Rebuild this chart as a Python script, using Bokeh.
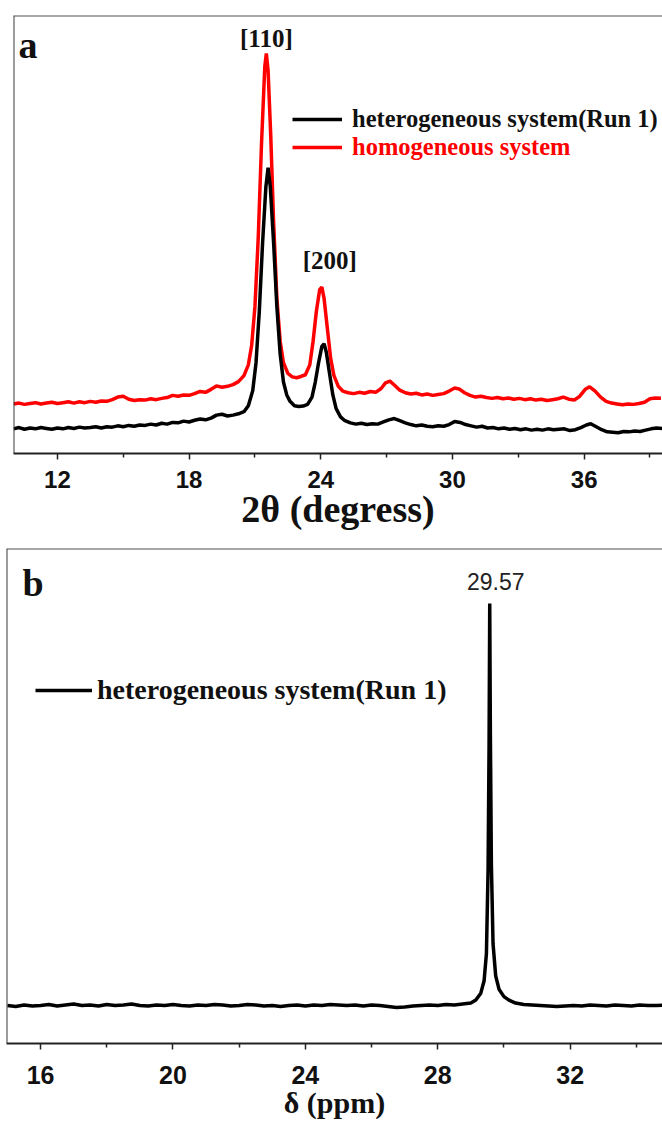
from bokeh.plotting import figure
from bokeh.models import FixedTicker, Range1d, Legend, LegendItem, Label, Span
from bokeh.embed import file_html
from bokeh.resources import INLINE

# ---------------- data: panel a (XRD) ----------------
xrd_hetero_x = [10.00, 10.25, 10.50, 10.75, 11.00, 11.25, 11.50, 11.75, 12.00, 12.25, 12.50, 12.75,
                13.00, 13.25, 13.50, 13.75, 14.00, 14.25, 14.50, 14.75, 15.00, 15.25, 15.50, 15.75,
                16.00, 16.25, 16.50, 16.75, 17.00, 17.25, 17.50, 17.75, 18.00, 18.25, 18.50, 18.75,
                19.00, 19.25, 19.50, 19.75, 20.00, 20.25, 20.50, 20.70, 20.90, 21.05, 21.20, 21.35,
                21.50, 21.60, 21.70, 21.85, 22.00, 22.15, 22.30, 22.45, 22.60, 22.80, 23.00, 23.20,
                23.40, 23.60, 23.75, 23.90, 24.05, 24.15, 24.25, 24.40, 24.55, 24.70, 24.90, 25.10,
                25.35, 25.60, 25.85, 26.10, 26.35, 26.60, 26.85, 27.10, 27.35, 27.60, 27.85, 28.10,
                28.35, 28.60, 28.85, 29.10, 29.35, 29.60, 29.85, 30.10, 30.35, 30.60, 30.85, 31.10,
                31.35, 31.60, 31.85, 32.10, 32.35, 32.60, 32.85, 33.10, 33.35, 33.60, 33.85, 34.10,
                34.35, 34.60, 34.85, 35.10, 35.35, 35.60, 35.85, 36.10, 36.30, 36.55, 36.80, 37.05,
                37.30, 37.55, 37.80, 38.05, 38.30, 38.55, 38.80, 39.05, 39.30, 39.55]
xrd_hetero_y = [3.6, 3.9, 3.5, 3.8, 3.6, 3.9, 3.7, 3.5, 3.8, 3.6, 3.9, 3.7,
                4.0, 3.8, 3.9, 4.1, 3.8, 4.1, 4.0, 4.3, 4.1, 4.4, 4.2, 4.5,
                4.4, 4.7, 4.5, 4.9, 4.7, 5.1, 5.0, 5.4, 5.2, 5.6, 5.9, 5.7,
                6.1, 6.8, 7.0, 6.6, 6.8, 7.1, 7.6, 9.0, 12.5, 19.0, 31.0, 47.0,
                60.0, 64.4, 60.0, 47.0, 32.0, 21.0, 14.5, 11.5, 10.0, 9.0, 8.8, 8.9,
                9.3, 11.0, 14.5, 19.0, 22.8, 23.4, 21.5, 16.5, 11.5, 8.3, 6.4, 5.5,
                5.0, 4.7, 4.9, 4.6, 4.8, 4.7, 5.2, 5.7, 6.0, 5.5, 5.0, 4.6,
                4.3, 4.5, 4.2, 4.1, 4.3, 4.2, 4.6, 5.3, 5.1, 4.6, 4.3, 4.0,
                4.2, 3.8, 3.9, 3.6, 3.8, 3.5, 3.7, 3.4, 3.6, 3.3, 3.5, 3.3,
                3.6, 3.4, 3.5, 3.6, 3.2, 3.4, 3.9, 4.5, 4.8, 4.1, 3.4, 2.9,
                2.8, 2.7, 3.0, 2.9, 3.1, 3.0, 3.3, 3.6, 3.8, 3.7]

xrd_homo_x = [10.00, 10.25, 10.50, 10.75, 11.00, 11.25, 11.50, 11.75, 12.00, 12.25, 12.50, 12.75,
              13.00, 13.25, 13.50, 13.75, 14.00, 14.25, 14.50, 14.75, 15.00, 15.25, 15.50, 15.75,
              16.00, 16.25, 16.50, 16.75, 17.00, 17.25, 17.50, 17.75, 18.00, 18.25, 18.50, 18.75,
              19.00, 19.25, 19.50, 19.75, 20.00, 20.25, 20.50, 20.70, 20.85, 21.00, 21.15, 21.30,
              21.45, 21.52, 21.60, 21.72, 21.85, 22.00, 22.15, 22.30, 22.50, 22.70, 22.90, 23.10,
              23.30, 23.50, 23.65, 23.80, 23.95, 24.05, 24.15, 24.30, 24.45, 24.60, 24.80, 25.00,
              25.25, 25.50, 25.75, 26.00, 26.25, 26.50, 26.75, 26.95, 27.15, 27.35, 27.60, 27.85,
              28.10, 28.35, 28.60, 28.85, 29.10, 29.35, 29.60, 29.85, 30.10, 30.30, 30.55, 30.80,
              31.05, 31.30, 31.55, 31.80, 32.05, 32.30, 32.55, 32.80, 33.05, 33.30, 33.55, 33.80,
              34.05, 34.30, 34.55, 34.80, 35.05, 35.30, 35.55, 35.80, 36.05, 36.25, 36.50, 36.75,
              37.00, 37.25, 37.50, 37.75, 38.00, 38.25, 38.50, 38.75, 39.00, 39.25, 39.50]
xrd_homo_y = [9.4, 9.6, 9.3, 9.5, 9.7, 9.4, 9.6, 9.8, 9.5, 9.7, 9.9, 9.6,
              9.9, 9.7, 10.0, 9.8, 10.1, 10.0, 10.4, 11.0, 11.2, 10.5, 10.2, 10.4,
              10.3, 10.6, 10.4, 10.7, 10.9, 11.4, 11.2, 11.5, 11.4, 11.8, 12.3, 12.1,
              12.8, 13.6, 13.3, 13.5, 13.9, 14.6, 16.0, 18.5, 23.0, 32.0, 48.0, 70.0,
              88.0, 91.0, 87.0, 72.0, 52.0, 34.0, 24.0, 19.0, 16.5, 15.7, 15.5, 15.8,
              16.2, 18.5, 24.0, 31.0, 36.0, 36.6, 34.0, 27.0, 20.0, 16.0, 13.5, 12.4,
              12.0, 11.8, 12.1, 11.9, 12.3, 12.1, 13.0, 14.3, 14.7, 13.8, 12.6, 12.0,
              11.7, 11.9, 11.5, 11.7, 11.4, 11.6, 11.8, 12.4, 13.1, 12.9, 12.0, 11.4,
              11.0, 11.2, 10.9, 10.7, 10.9, 10.6, 10.8, 10.5, 10.7, 10.4, 10.6, 10.3,
              10.5, 10.2, 10.4, 10.6, 11.0, 10.5, 10.3, 11.2, 12.8, 13.4, 12.4, 11.0,
              10.0, 9.6, 9.4, 9.2, 9.4, 9.3, 9.5, 9.8, 10.6, 10.8, 10.7]

xrd_ticks = [12, 18, 24, 30, 36]
xrd_minor = [15, 21, 27, 33, 39]
xrd_peak_labels = ["[110]", "[200]"]

# ---------------- data: panel b (13C NMR) ----------------
nmr_x = [15.00, 15.25, 15.50, 15.75, 16.00, 16.25, 16.50, 16.75, 17.00, 17.25, 17.50, 17.75,
         18.00, 18.25, 18.50, 18.75, 19.00, 19.25, 19.50, 19.75, 20.00, 20.25, 20.50, 20.75,
         21.00, 21.25, 21.50, 21.75, 22.00, 22.25, 22.50, 22.75, 23.00, 23.25, 23.50, 23.75,
         24.00, 24.25, 24.50, 24.75, 25.00, 25.25, 25.50, 25.75, 26.00, 26.25, 26.50, 26.75,
         27.00, 27.25, 27.50, 27.75, 28.00, 28.25, 28.50, 28.75, 29.00, 29.15, 29.30, 29.40,
         29.47, 29.52, 29.55, 29.57, 29.59, 29.62, 29.67, 29.75, 29.85, 30.00, 30.15, 30.35,
         30.60, 30.85, 31.10, 31.35, 31.60, 31.85, 32.10, 32.35, 32.60, 32.85, 33.10, 33.35,
         33.60, 33.85, 34.10, 34.35, 34.60, 34.85]
nmr_y = [7.5, 7.3, 7.6, 7.4, 7.5, 7.7, 7.4, 7.6, 7.8, 7.5, 7.6, 7.4,
         7.7, 7.5, 7.6, 7.8, 7.5, 7.4, 7.6, 7.5, 7.7, 7.5, 7.4, 7.6,
         7.5, 7.7, 7.6, 7.4, 7.5, 7.7, 7.6, 7.4, 7.5, 7.3, 7.5, 7.6,
         7.4, 7.6, 7.5, 7.7, 7.6, 7.5, 7.6, 7.4, 7.6, 7.5, 7.3, 7.1,
         7.2, 7.4, 7.5, 7.6, 7.5, 7.7, 7.6, 7.8, 8.0, 8.6, 10.0, 12.5,
         18.0, 35.0, 60.0, 88.8, 62.0, 36.0, 20.0, 13.5, 10.8, 9.3, 8.6, 8.0,
         7.7, 7.6, 7.5, 7.4, 7.3, 7.4, 7.5, 7.4, 7.6, 7.5, 7.4, 7.6,
         7.5, 7.4, 7.6, 7.5, 7.5, 7.6]
nmr_ticks = [16, 20, 24, 28, 32]
nmr_minor = [18, 22, 26, 30, 34]

SERIF = "Liberation Serif"
SANS = "Liberation Sans"


def bottom_axis(p, major, minor, label, tick_size, label_size, tick_standoff, label_standoff):
    xa = p.below[0]
    xa.ticker = FixedTicker(ticks=major, minor_ticks=minor)
    xa.axis_line_width = 2
    xa.axis_line_color = "#222222"
    xa.major_tick_in = 0
    xa.major_tick_out = 6
    xa.minor_tick_in = 0
    xa.minor_tick_out = 4
    xa.major_tick_line_width = 1.5
    xa.minor_tick_line_width = 1.5
    xa.major_tick_line_color = "#222222"
    xa.minor_tick_line_color = "#222222"
    xa.major_label_text_font = SANS
    xa.major_label_text_font_style = "bold"
    xa.major_label_text_font_size = tick_size
    xa.major_label_text_color = "#111111"
    xa.major_label_standoff = tick_standoff
    xa.axis_label = label
    xa.axis_label_text_font = SERIF
    xa.axis_label_text_font_style = "bold"
    xa.axis_label_text_font_size = label_size
    xa.axis_label_text_color = "#111111"
    xa.axis_label_standoff = label_standoff


def frame(p):
    p.outline_line_color = None
    p.xgrid.visible = False
    p.ygrid.visible = False
    p.background_fill_color = "white"
    p.add_layout(Span(location=p.x_range.start, dimension="height",
                      line_color="#3a3a3a", line_width=2))
    p.add_layout(Span(location=p.y_range.end, dimension="width",
                      line_color="#505050", line_width=2))


leg_kw = dict(border_line_color=None, background_fill_alpha=0, padding=0, margin=0,
              label_text_font=SERIF, label_text_font_style="bold")

# ---------------- panel a ----------------
pa = figure(width=662, height=545, x_range=Range1d(10.0, 39.57), y_range=Range1d(-2.14, 99.86),
            output_backend="svg", toolbar_location=None, y_axis_location=None,
            min_border_left=13, min_border_right=0, min_border_top=15, min_border_bottom=92)
bottom_axis(pa, xrd_ticks, xrd_minor, "2θ (degress)", "24px", "38px", 11, -3)
frame(pa)

r_homo = pa.line(xrd_homo_x, xrd_homo_y, line_color="#ff0000", line_width=3.5)
r_het = pa.line(xrd_hetero_x, xrd_hetero_y, line_color="#000000", line_width=3.5)

la1 = Legend(items=[LegendItem(label="heterogeneous system(Run 1)", renderers=[r_het])],
             location=(279, 320), glyph_width=50, glyph_height=20, label_height=20,
             label_standoff=10, label_text_font_size="24.5px", label_text_color="#111111", **leg_kw)
la2 = Legend(items=[LegendItem(label="homogeneous system", renderers=[r_homo])],
             location=(279, 292), glyph_width=50, glyph_height=20, label_height=20,
             label_standoff=10, label_text_font_size="24.5px", label_text_color="#ff0000", **leg_kw)
pa.add_layout(la1)
pa.add_layout(la2)

# peak labels anchored to the homogeneous curve maxima
i110 = xrd_homo_y.index(max(xrd_homo_y))
sub = [(y, i) for i, (x, y) in enumerate(zip(xrd_homo_x, xrd_homo_y)) if 23 < x < 25]
i200 = max(sub)[1]
for idx, txt, xo, yo in [(i110, xrd_peak_labels[0], 0, 2), (i200, xrd_peak_labels[1], 8, 13)]:
    pa.add_layout(Label(x=xrd_homo_x[idx], y=xrd_homo_y[idx], text=txt, x_offset=xo, y_offset=yo,
                        text_align="center", text_baseline="bottom", text_font=SERIF,
                        text_font_style="bold", text_font_size="25px", text_color="#111111"))

pa.add_layout(Label(x=pa.x_range.start, y=93.1, x_offset=5, text="a",
                    text_baseline="alphabetic", text_font=SERIF, text_font_style="bold",
                    text_font_size="38px", text_color="#111111"))

# ---------------- panel b ----------------
pb = figure(width=662, height=581, x_range=Range1d(14.97, 34.79), y_range=Range1d(-0.18, 99.9),
            output_backend="svg", toolbar_location=None, y_axis_location=None,
            min_border_left=6, min_border_right=0, min_border_top=3, min_border_bottom=83)
bottom_axis(pb, nmr_ticks, nmr_minor, "δ (ppm)", "25px", "30px", 16, -1)
frame(pb)

r_nmr = pb.line(nmr_x, nmr_y, line_color="#000000", line_width=3.5)
lb = Legend(items=[LegendItem(label="heterogeneous system(Run 1)", renderers=[r_nmr])],
            location=(29, 337), glyph_width=57, glyph_height=22, label_height=22,
            label_standoff=5, label_text_font_size="28px", label_text_color="#111111", **leg_kw)
pb.add_layout(lb)

ip = nmr_y.index(max(nmr_y))
pb.add_layout(Label(x=nmr_x[ip], y=nmr_y[ip], text=f"{nmr_x[ip]:.2f}", x_offset=6, y_offset=13,
                    text_align="center", text_baseline="bottom", text_font=SANS,
                    text_font_size="23px", text_color="#222222"))
pb.add_layout(Label(x=pb.x_range.start, y=93.0, x_offset=16, text="b",
                    text_baseline="alphabetic", text_font=SERIF, text_font_style="bold",
                    text_font_size="38px", text_color="#111111"))

# two independent roots stacked on the page (no frame alignment between them)
open("out.html", "w").write(file_html([pa, pb], INLINE))
